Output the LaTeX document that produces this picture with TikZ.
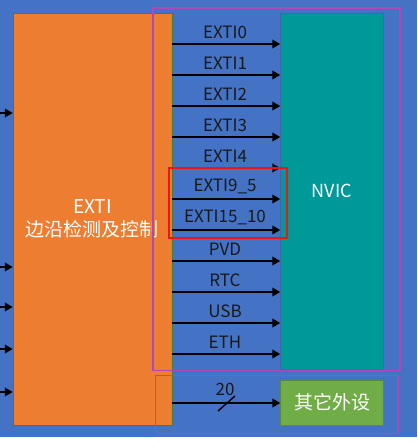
\documentclass[tikz,border=0pt]{standalone}
\usepackage{fontspec}
\setmainfont{Noto Sans CJK SC}
\usetikzlibrary{arrows.meta}
\definecolor{bgblue}{RGB}{68,114,196}
\definecolor{extiorange}{RGB}{237,125,49}
\definecolor{nvicteal}{RGB}{0,153,153}
\definecolor{periphgreen}{RGB}{112,173,71}
\definecolor{framepurple}{RGB}{177,72,184}
\definecolor{framered}{RGB}{240,20,20}
\begin{document}
\begin{tikzpicture}[x=1pt, y=-1pt,
    exti/.style={draw=periphgreen!70!black, fill=extiorange, minimum width=159pt, minimum height=412pt, inner sep=0pt, align=center, text=white, font=\fontsize{19}{23}\selectfont},
    nvic/.style={draw=bgblue!90!black, fill=nvicteal, minimum width=103pt, minimum height=356pt, inner sep=0pt, text=white, font=\fontsize{18}{21}\selectfont},
    periph/.style={draw=periphgreen!80!black, fill=periphgreen, minimum width=103pt, minimum height=45pt, inner sep=0pt, text=white, font=\fontsize{19}{22}\selectfont},
    line/.style={font=\fontsize{17}{20}\selectfont, text=black!90, inner sep=0pt},
    arrow/.style={-{Triangle[length=8pt, width=8.5pt]}, line width=2.4pt, black},
    frame/.style={line width=1.6pt, framepurple}
]

% Background
\fill[bgblue] (0,0) rectangle (417,437);
\useasboundingbox (0,0) rectangle (418,448);

% Blocks
\node[exti] (edge) at (92.5,219) {EXTI\\边沿检测及控制};
\node[nvic] (nvic) at (332,191) {NVIC};
\node[periph] (other) at (332,402.5) {其它外设};

% Inputs on the left
\foreach \y [count=\i] in {113,267,307,349,392}
    \coordinate (in\i) at (0,\y);
\foreach \i in {1,...,5}
    \draw[arrow] (in\i) -- (edge.west |- in\i);

% Lines to the NVIC
\foreach \name [count=\i from 0] in {EXTI0,EXTI1,EXTI2,EXTI3,EXTI4,EXTI9\_5,EXTI15\_10,PVD,RTC,USB,ETH} {
    \coordinate (l\i) at (225,44+31*\i);
    \node[line, above=5pt] (lbl\i) at (l\i) {\name};
    \draw[arrow] (edge.east |- l\i) -- (nvic.west |- l\i);
}

% Other peripherals
\coordinate (bus) at (225,403);
\node[line, above=7pt] (cnt) at (bus) {20};
\draw[arrow] (edge.east |- bus) -- (other.west |- bus);
\draw[line width=1.4pt] (218,411) -- (235,396);

% Frames
\draw[frame] (153,8) rectangle (400,370.5);
\draw[frame] (155.5,375.5) rectangle (398,433.5);
\draw[line width=2pt, framered] (169,167.5) rectangle (286.5,238);

\end{tikzpicture}
\end{document}
